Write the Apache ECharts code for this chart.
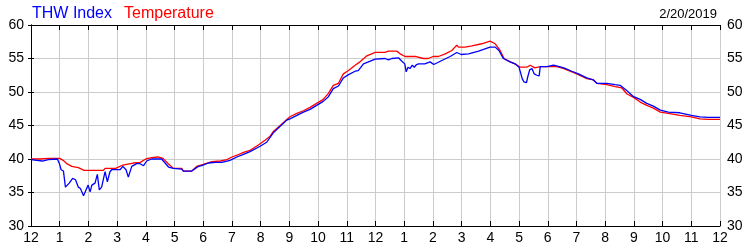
<!DOCTYPE html>
<html><head><meta charset="utf-8">
<script src="https://cdn.jsdelivr.net/npm/echarts@6/dist/echarts.min.js"></script>
<style>html,body{margin:0;padding:0;background:#fff}#c{width:750px;height:250px}</style>
</head><body><div id="c"></div>
<script>
const seriesNames = ['THW Index', 'Temperature'];
const dateLabel = '2/20/2019';
const hourTicks = [12,1,2,3,4,5,6,7,8,9,10,11,12,1,2,3,4,5,6,7,8,9,10,11,12];
const temperature = [[0,40.0],[0.3,40.0],[0.6,40.1],[1.0,40.1],[1.12,39.8],[1.25,39.3],[1.42,38.9],[1.65,38.7],[1.85,38.3],[2.2,38.3],[2.52,38.3],[2.58,38.6],[2.95,38.6],[3.2,39.1],[3.56,39.4],[3.8,39.5],[4.0,40.0],[4.2,40.2],[4.42,40.3],[4.6,40.1],[4.78,39.3],[4.96,38.6],[5.25,38.6],[5.3,38.2],[5.6,38.2],[5.77,38.9],[6.0,39.2],[6.3,39.6],[6.6,39.7],[6.82,39.9],[7.0,40.3],[7.2,40.6],[7.4,41.0],[7.63,41.3],[7.92,42.1],[8.15,42.8],[8.33,43.4],[8.44,44.1],[8.68,45.0],[8.91,45.9],[9.02,46.3],[9.26,46.8],[9.49,47.2],[9.72,47.7],[9.95,48.3],[10.18,48.9],[10.36,49.8],[10.53,51.0],[10.71,51.3],[10.88,52.7],[11.06,53.2],[11.29,54.0],[11.46,54.5],[11.7,55.4],[11.99,55.9],[12.33,55.9],[12.45,56.1],[12.74,56.1],[12.86,55.7],[13.03,55.3],[13.38,55.3],[13.67,55.0],[13.84,55.0],[14.0,55.3],[14.19,55.3],[14.43,55.7],[14.66,56.2],[14.83,57.0],[14.89,56.7],[15.12,56.7],[15.36,56.9],[15.7,57.2],[15.99,57.6],[16.17,57.2],[16.34,56.2],[16.48,55.0],[16.69,54.5],[16.86,54.2],[17.04,53.7],[17.27,53.7],[17.39,54.0],[17.55,53.6],[17.74,53.8],[18.08,53.8],[18.32,53.8],[18.56,53.5],[18.84,53.0],[19.07,52.6],[19.36,52.0],[19.59,51.8],[19.71,51.3],[20.06,51.1],[20.35,50.8],[20.58,50.6],[20.76,49.7],[20.99,49.2],[21.22,48.5],[21.45,48.0],[21.68,47.6],[21.92,47.0],[22.2,46.8],[22.6,46.5],[23.0,46.3],[23.3,46.0],[23.6,45.9],[24,45.9]];
const thwIndex = [[0,39.9],[0.2,39.8],[0.4,39.7],[0.6,39.9],[0.92,40.0],[0.99,39.3],[1.05,38.4],[1.13,38.2],[1.2,35.8],[1.33,36.4],[1.45,37.1],[1.55,36.9],[1.65,35.8],[1.72,35.6],[1.83,34.5],[1.92,35.4],[1.99,36.1],[2.06,35.1],[2.12,36.1],[2.23,36.4],[2.31,37.7],[2.38,35.4],[2.46,35.8],[2.58,38.1],[2.66,36.6],[2.75,38.1],[2.81,38.4],[3.1,38.4],[3.2,38.9],[3.31,38.4],[3.39,37.3],[3.51,38.9],[3.68,39.3],[3.8,39.3],[3.92,39.0],[4.03,39.7],[4.2,40.0],[4.55,40.0],[4.79,38.8],[4.96,38.6],[5.25,38.5],[5.31,38.2],[5.6,38.2],[5.83,38.9],[5.95,39.0],[6.18,39.4],[6.42,39.5],[6.65,39.5],[6.93,39.8],[7.17,40.3],[7.4,40.7],[7.63,41.1],[7.98,41.9],[8.21,42.5],[8.44,43.9],[8.68,44.9],[8.91,45.8],[9.02,46.0],[9.26,46.5],[9.49,47.0],[9.72,47.4],[9.95,48.0],[10.18,48.6],[10.36,49.3],[10.53,50.5],[10.71,50.9],[10.88,52.1],[11.06,52.6],[11.29,53.1],[11.4,53.2],[11.58,54.2],[11.82,54.6],[11.99,54.9],[12.33,55.0],[12.45,54.8],[12.57,55.0],[12.8,55.1],[12.92,54.6],[13.02,54.2],[13.07,53.0],[13.13,53.7],[13.2,53.5],[13.28,54.0],[13.35,53.7],[13.43,54.1],[13.5,54.2],[13.72,54.2],[13.9,54.5],[14.03,54.1],[14.31,54.7],[14.6,55.3],[14.83,55.9],[14.98,55.6],[15.24,55.7],[15.59,56.1],[15.99,56.7],[16.17,56.7],[16.3,56.2],[16.45,55.0],[16.69,54.5],[16.86,54.2],[17.0,53.7],[17.11,52.0],[17.17,51.5],[17.26,51.4],[17.3,52.2],[17.37,53.3],[17.45,53.5],[17.53,52.7],[17.62,52.5],[17.7,52.4],[17.74,53.8],[17.97,53.8],[18.2,54.0],[18.56,53.6],[18.84,53.1],[19.07,52.7],[19.36,52.1],[19.59,51.8],[19.71,51.3],[20.06,51.3],[20.35,51.1],[20.52,51.0],[20.76,50.2],[20.99,49.3],[21.22,48.9],[21.45,48.3],[21.68,47.9],[21.92,47.3],[22.2,47.0],[22.6,46.9],[23.0,46.5],[23.3,46.3],[23.6,46.2],[24,46.2]];

const FONT = 'Liberation Sans, Arial, sans-serif';
const chart = echarts.init(document.getElementById('c'), null, {renderer: 'canvas'});
const yAxisBase = {
  type: 'value', min: 30, max: 60, interval: 5,
  axisLine: {show: true, lineStyle: {color: '#000', width: 1}},
  axisTick: {show: true, inside: false, length: 3, lineStyle: {color: '#000'}},
  axisLabel: {color: '#000', fontSize: 14, fontFamily: FONT, margin: 7},
};
chart.setOption({
  animation: false,
  backgroundColor: '#fff',
  title: {
    text: dateLabel, right: 28, top: 3,
    textStyle: {fontSize: 13, fontWeight: 'normal', color: '#000', fontFamily: FONT}
  },
  legend: {
    left: 22, top: 1, icon: 'none', itemWidth: 0, itemGap: 7,
    data: [
      {name: seriesNames[0], textStyle: {color: '#0000ff'}},
      {name: seriesNames[1], textStyle: {color: '#ff0000'}}
    ],
    textStyle: {fontSize: 16, fontFamily: FONT},
    selectedMode: false
  },
  grid: {left: 31, right: 30, top: 25, bottom: 24, containLabel: false},
  xAxis: [{
    type: 'value', min: 0, max: 24, interval: 1, position: 'bottom',
    axisLine: {show: true, onZero: false, lineStyle: {color: '#000', width: 1}},
    axisTick: {show: true, inside: true, length: 5, lineStyle: {color: '#000'}},
    axisLabel: {color: '#000', fontSize: 14, fontFamily: FONT, margin: 5,
      formatter: v => String(hourTicks[Math.round(v)])},
    splitLine: {show: true, lineStyle: {color: '#cccccc', width: 1}}
  }, {
    type: 'value', min: 0, max: 24, interval: 1, position: 'top',
    axisLine: {show: true, onZero: false, lineStyle: {color: '#000', width: 1}},
    axisTick: {show: true, inside: true, length: 5, lineStyle: {color: '#000'}},
    axisLabel: {show: false},
    splitLine: {show: false}
  }],
  yAxis: [
    Object.assign({}, yAxisBase, {position: 'left',
      splitLine: {show: true, lineStyle: {color: '#cccccc', width: 1}}}),
    Object.assign({}, yAxisBase, {position: 'right', splitLine: {show: false}})
  ],
  series: [{
    name: seriesNames[1], type: 'line', data: temperature, showSymbol: false,
    lineStyle: {color: '#ff0000', width: 1.3}, itemStyle: {color: '#ff0000'}, z: 2
  }, {
    name: seriesNames[0], type: 'line', data: thwIndex, showSymbol: false,
    lineStyle: {color: '#0000ff', width: 1.3}, itemStyle: {color: '#0000ff'}, z: 3
  }]
});
</script></body></html>
